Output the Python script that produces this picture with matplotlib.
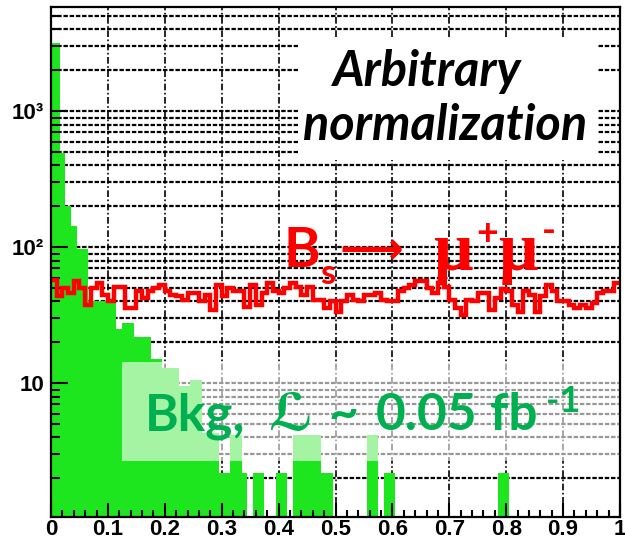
import numpy as np
import matplotlib

matplotlib.use("Agg")
import matplotlib.pyplot as plt
from matplotlib.patches import Rectangle
from matplotlib.ticker import LogLocator, MultipleLocator, NullFormatter

# binning: 100 bins of 0.01
bkg_edges = np.linspace(-0.005, 0.995, 101)
sig_edges = np.linspace(0.0, 1.0, 101)

# background (green) bin contents
bkg_counts = [
    3200, 3200, 490, 200, 143, 98, 98, 40, 40, 40,
    40, 40, 25, 28, 28, 22, 22, 22, 15, 15,
    13, 13, 13, 9.5, 9.5, 10.6, 10.6, 4.3, 4.3, 4.3,
    2.2, 2.2, 4.2, 4.2, 2.2, 0, 2.2, 2.2, 0, 0,
    2.2, 2.2, 0, 4.2, 4.2, 4.2, 4.2, 4.2, 2.2, 2.2,
    0, 0, 0, 0, 0, 0, 4.2, 4.2, 0, 2.2,
    2.2, 0, 0, 0, 0, 0, 0, 0, 0, 0,
    0, 0, 0, 0, 0, 0, 0, 0, 0, 2.2,
    2.2, 0, 0, 0, 0, 0, 0, 0, 0, 0,
    0, 0, 0, 0, 0, 0, 0, 0, 0, 0,
]

# signal (red) bin contents
sig_counts = [
    57.6, 43.6, 50.0, 46.0, 56.3, 50.0, 37.9, 50.0, 54.8, 44.8,
    40.0, 51.5, 51.5, 35.8, 35.8, 47.5, 42.3, 47.5, 50.0, 53.3,
    47.5, 44.8, 43.6, 41.2, 46.0, 46.0, 40.0, 44.8, 34.8, 53.3,
    43.6, 50.0, 47.5, 47.5, 36.7, 53.3, 37.9, 46.0, 54.8, 47.5,
    46.0, 50.0, 54.8, 51.5, 44.8, 51.5, 41.2, 41.2, 35.8, 40.0,
    33.7, 40.0, 44.8, 41.2, 40.0, 44.8, 44.8, 46.0, 41.2, 40.0,
    40.0, 47.5, 50.0, 53.3, 56.3, 56.3, 50.0, 46.0, 54.8, 51.5,
    41.2, 35.8, 31.9, 41.2, 40.0, 46.0, 46.0, 34.8, 42.3, 49.0,
    47.5, 37.9, 33.7, 47.5, 44.8, 33.7, 43.6, 53.3, 47.5, 40.0,
    40.0, 37.9, 35.8, 37.9, 35.8, 39.0, 46.0, 47.5, 47.5, 54.8,
]

x_ticks = [0, 0.1, 0.2, 0.3, 0.4, 0.5, 0.6, 0.7, 0.8, 0.9, 1.0]
x_tick_labels = ["0", "0.1", "0.2", "0.3", "0.4", "0.5", "0.6", "0.7", "0.8", "0.9", "1"]
y_ticks = [10, 100, 1000]
y_tick_labels = ["10", "10\u00b2", "10\u00b3"]

GREEN = "#1ee61e"
TEXT_GREEN = "#00b050"
RED = "#ff0000"
LABEL_FONT = ["Liberation Sans Narrow", "Liberation Sans", "DejaVu Sans"]
NOTE_FONT = ["Lato", "DejaVu Sans"]

W, H = 625, 542
AX_L, AX_R, AX_T, AX_B = 51, 620, 6.5, 516.5


def at_px(x, y):
    """pixel position in the picture -> axes fraction"""
    return (x - AX_L) / (AX_R - AX_L), (AX_B - y) / (AX_B - AX_T)


def white_box(ax, left, top, right, bottom, alpha):
    x0, y0 = at_px(left, bottom)
    x1, y1 = at_px(right, top)
    ax.add_patch(Rectangle((x0, y0), x1 - x0, y1 - y0, transform=ax.transAxes,
                           facecolor="white", alpha=alpha, edgecolor="none", zorder=4,
                           clip_on=True))


fig = plt.figure(figsize=(W / 100, H / 100), dpi=100)
ax = fig.add_axes([AX_L / W, 1 - AX_B / H, (AX_R - AX_L) / W, (AX_B - AX_T) / H])
ax.set_yscale("log")
ax.set_xlim(0, 1)
ax.set_ylim(1.05, 5900)

# dashed grid under the histograms, ticks stay on top
for xv in x_ticks[1:-1]:
    ax.axvline(xv, color="black", lw=1.2, ls=(0, (4, 1.5, 1, 1.5)), zorder=0.5)
for yv in LogLocator(subs=np.arange(1, 10)).tick_values(1, 6000):
    if 1.1 < yv < 5900:
        ax.axhline(yv, color="black", lw=1.6, ls=(0, (2, 0.8)), zorder=0.5)

ax.stairs(bkg_counts, bkg_edges, fill=True, color=GREEN, lw=0, baseline=0.1, zorder=1)
ax.stairs(sig_counts, sig_edges, color=RED, lw=3.2, baseline=None, zorder=2)

ax.set_xticks(x_ticks, x_tick_labels)
ax.xaxis.set_minor_locator(MultipleLocator(0.02))
ax.set_yticks(y_ticks, y_tick_labels)
ax.yaxis.set_minor_locator(LogLocator(subs=np.arange(2, 10)))
ax.yaxis.set_minor_formatter(NullFormatter())
ax.tick_params(which="both", direction="in", width=1.5, color="black")
ax.tick_params(axis="x", which="major", length=10, pad=2)
ax.tick_params(axis="x", which="minor", length=5)
ax.tick_params(axis="y", which="major", length=12, pad=5)
ax.tick_params(axis="y", which="minor", length=6.5)
for lab in ax.get_xticklabels() + ax.get_yticklabels():
    lab.set_fontfamily(LABEL_FONT)
    lab.set_fontweight("bold")
    lab.set_fontsize(16)
for sp in ax.spines.values():
    sp.set_linewidth(1.6)
    sp.set_zorder(5)

# opaque box behind the normalization note, translucent one behind the Bkg label
white_box(ax, 298, 38, 598, 160, 1.0)
white_box(ax, 122, 362, 625, 460.7, 0.6)

note = dict(transform=ax.transAxes, fontweight="bold", zorder=6)

ax.text(*at_px(427, 86), "Arbitrary", ha="center", va="baseline", fontsize=35,
        fontstyle="italic", family=NOTE_FONT, **note)
ax.text(*at_px(445, 140), "normalization", ha="center", va="baseline", fontsize=35,
        fontstyle="italic", family=NOTE_FONT, **note)

# B_s -> mu+ mu-
ax.text(*at_px(283, 267), "B", ha="left", va="baseline", fontsize=40, color=RED,
        family=NOTE_FONT, **note)
ax.text(*at_px(320, 284), "s", ha="left", va="baseline", fontsize=25, color=RED,
        family=NOTE_FONT, **note)
ax.text(*at_px(339, 250), "\u27f6", ha="left", va="center", fontsize=32, color=RED,
        family=["DejaVu Sans"], **note)
for x_mu, x_sup, y_sup, sign in ((433, 476, 245, "+"), (498, 542, 243, "-")):
    ax.text(*at_px(x_mu, 270), "\u03bc", ha="left", va="baseline", fontsize=50, color=RED,
            family=["Liberation Serif", "DejaVu Serif"], **note)
    ax.text(*at_px(x_sup, y_sup), sign, ha="left", va="baseline",
            fontsize=27, color=RED, family=NOTE_FONT, **note)

# Bkg, L ~ 0.05 fb^-1
for x_txt, s, fam in ((145, "Bkg,", NOTE_FONT), (268, "\u2112", ["DejaVu Sans"]),
                      (328, "~", NOTE_FONT), (376, "0.05", NOTE_FONT), (490, "fb", NOTE_FONT)):
    ax.text(*at_px(x_txt, 430), s, ha="left", va="baseline", fontsize=37, color=TEXT_GREEN,
            family=fam, **note)
ax.text(*at_px(546, 412), "-1", ha="left", va="baseline", fontsize=26, color=TEXT_GREEN,
        family=NOTE_FONT, **note)

fig.savefig("out.png", dpi=100)
